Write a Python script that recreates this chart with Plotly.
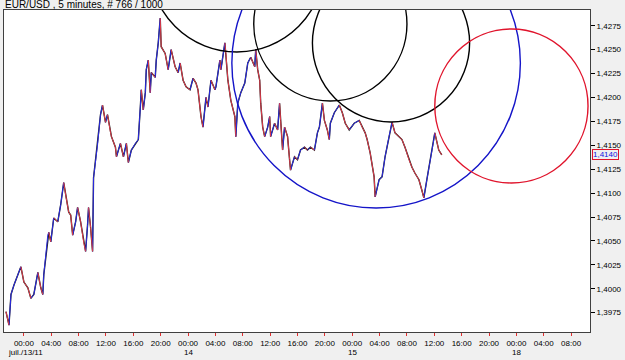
import plotly.graph_objects as go

# ---------------- data ----------------
# time in hours from 13 July 00:00 (5-minute chart, weekend skipped), closing prices
hours = [-2.62, -2.18, -1.89, -1.45, -0.44, 0.0, 0.58, 1.02, 1.45, 2.04, 2.47, 2.76, 2.91, 3.49, 3.64, 3.93,
         4.36, 4.95, 5.38, 5.82, 6.11, 6.55, 6.84, 7.13, 7.56, 7.85, 8.29, 8.73, 9.02, 9.31, 9.45, 9.75,
         10.04, 10.18, 10.76, 11.2, 11.49, 11.93, 12.22, 12.65, 12.8, 13.38, 13.53, 14.11, 14.55, 14.98,
         15.27, 15.71, 16.29, 16.73, 17.02, 17.16, 17.45, 17.75, 17.89, 18.18, 18.47, 18.62, 19.2, 19.35,
         19.64, 19.93, 20.07, 20.65, 21.09, 21.53, 22.11, 22.55, 22.84, 23.27, 23.71, 24.29, 24.73, 25.16,
         25.45, 25.89, 26.18, 26.62, 26.91, 27.35, 27.93, 28.07, 28.65, 28.8, 29.38, 29.53, 29.82, 30.25,
         30.84, 30.98, 31.27, 31.71, 32.29, 32.73, 33.16, 33.75, 33.89, 34.18, 34.47, 34.62, 34.91, 35.2,
         35.64, 35.93, 36.07, 36.65, 37.09, 37.38, 37.53, 37.82, 38.11, 38.55, 38.84, 38.98, 39.56, 40.0,
         40.44, 41.02, 41.45, 41.89, 42.47, 42.91, 43.2, 43.64, 43.93, 44.36, 44.65, 44.8, 45.38, 46.11,
         46.55, 46.98, 47.56, 48.29, 49.02, 49.45, 49.89, 50.18, 50.62, 51.2, 51.35, 51.93, 52.36, 52.8,
         53.38, 53.82, 54.25, 54.84, 55.27, 55.71, 56.29, 56.73, 57.16, 57.75, 58.18, 58.47, 58.91, 59.35,
         59.93, 60.07, 60.65, 61.09]
closes = [1.3976, 1.3962, 1.3994, 1.4004, 1.4023, 1.4007, 1.4001, 1.3990, 1.3994, 1.4017, 1.4001, 1.3994,
          1.4015, 1.4056, 1.4059, 1.4049, 1.4074, 1.4070, 1.4088, 1.4111, 1.4098, 1.4080, 1.4077, 1.4056,
          1.4070, 1.4085, 1.4070, 1.4049, 1.4039, 1.4067, 1.4085, 1.4064, 1.4039, 1.4116, 1.4150, 1.4182,
          1.4192, 1.4174, 1.4182, 1.4164, 1.4159, 1.4148, 1.4138, 1.4152, 1.4138, 1.4152, 1.4132, 1.4145,
          1.4152, 1.4156, 1.4190, 1.4208, 1.4187, 1.4205, 1.4229, 1.4239, 1.4205, 1.4226, 1.4221, 1.4239,
          1.4257, 1.4283, 1.4253, 1.4246, 1.4229, 1.4250, 1.4232, 1.4226, 1.4236, 1.4218, 1.4211, 1.4208,
          1.4220, 1.4215, 1.4208, 1.4180, 1.4169, 1.4200, 1.4190, 1.4218, 1.4208, 1.4211, 1.4239, 1.4229,
          1.4257, 1.4246, 1.4218, 1.4197, 1.4180, 1.4159, 1.4194, 1.4205, 1.4215, 1.4236, 1.4242, 1.4232,
          1.4250, 1.4229, 1.4218, 1.4194, 1.4169, 1.4159, 1.4169, 1.4180, 1.4159, 1.4173, 1.4166, 1.4194,
          1.4176, 1.4145, 1.4169, 1.4159, 1.4135, 1.4124, 1.4138, 1.4135, 1.4145, 1.4148, 1.4145, 1.4148,
          1.4145, 1.4163, 1.4169, 1.4194, 1.4176, 1.4166, 1.4156, 1.4173, 1.4184, 1.4192, 1.4184, 1.4173,
          1.4166, 1.4173, 1.4176, 1.4169, 1.4163, 1.4156, 1.4142, 1.4117, 1.4096, 1.4114, 1.4117, 1.4138,
          1.4159, 1.4174, 1.4163, 1.4159, 1.4156, 1.4148, 1.4135, 1.4127, 1.4121, 1.4114, 1.4103, 1.4095,
          1.4114, 1.4132, 1.4156, 1.4163, 1.4145, 1.4140]

tick_hours = list(range(0, 81, 4))
tick_labels = ["%02d:00" % (h % 24) for h in tick_hours]
date_hours = [24, 48, 72]
date_labels = ["14", "15", "18"]
first_date_label = "juil./13/11"
price_ticks = [1.3975, 1.4000, 1.4025, 1.4050, 1.4075, 1.4100, 1.4125, 1.4150,
               1.4175, 1.4200, 1.4225, 1.4250, 1.4275]

# drawn circles: centre hour, centre price, radius (in hours of x axis), colour
circle_hours = [31.13, 44.8, 53.67, 51.49, 71.27]
circle_prices = [1.43395, 1.42768, 1.42569, 1.42360, 1.41911]
circle_radius = [12.8, 11.2, 11.49, 21.09, 11.2]
circle_colors = ["#000000", "#000000", "#000000", "#1414c8", "#e0142c"]

title_text = "EUR/USD , 5 minutes, # 766 / 1000"

# ---------------- layout geometry ----------------
W, H = 625, 360
ml, mr, mt, mb = 3, 33, 10, 28
x_range = [-2.91, 82.76]
y_range = [1.39548, 1.42914]
px_per_h = (W - ml - mr) / (x_range[1] - x_range[0])
px_per_p = (H - mt - mb) / (y_range[1] - y_range[0])

up_x, up_y, dn_x, dn_y = [], [], [], []
for i in range(1, len(hours)):
    if closes[i] >= closes[i - 1]:
        up_x += [hours[i - 1], hours[i], None]
        up_y += [closes[i - 1], closes[i], None]
    else:
        dn_x += [hours[i - 1], hours[i], None]
        dn_y += [closes[i - 1], closes[i], None]

fig = go.Figure()
fig.add_trace(go.Scatter(x=hours, y=closes, mode="lines",
                         line=dict(color="#202020", width=1.4), hoverinfo="skip"))
fig.add_trace(go.Scatter(x=up_x, y=up_y, mode="lines",
                         line=dict(color="#2a2ae6", width=1.0), hoverinfo="skip"))
fig.add_trace(go.Scatter(x=dn_x, y=dn_y, mode="lines",
                         line=dict(color="#e03a4a", width=1.0), hoverinfo="skip"))

shapes = []
for cx, cy, r, col in zip(circle_hours, circle_prices, circle_radius, circle_colors):
    ry = r * px_per_h / px_per_p
    shapes.append(dict(type="circle", xref="x", yref="y",
                       x0=cx - r, x1=cx + r, y0=cy - ry, y1=cy + ry,
                       line=dict(color=col, width=1.4), layer="above"))

annotations = [
    dict(text=title_text, xref="paper", yref="paper", x=-0.002, y=1 + 5.5 / (H - mt - mb),
         xanchor="left", yanchor="middle", showarrow=False,
         font=dict(family="Liberation Sans", size=10, color="#000")),
    dict(text=first_date_label, xref="paper", yref="paper", x=2 / (W - ml - mr),
         y=-20.5 / (H - mt - mb), xanchor="left", yanchor="middle", showarrow=False,
         font=dict(family="Liberation Sans", size=8, color="#000")),
    dict(text=("%.4f" % closes[-1]).replace(".", ","), xref="paper", yref="y",
         x=1 + 16 / (W - ml - mr), y=closes[-1], xanchor="center", yanchor="middle",
         showarrow=False, bordercolor="#e0142c", borderwidth=1, borderpad=0,
         bgcolor="#f0f0f0", font=dict(family="Liberation Sans", size=8, color="#1010e0")),
]
for dh, dl in zip(date_hours, date_labels):
    annotations.append(dict(text=dl, xref="x", yref="paper", x=dh, y=-20.5 / (H - mt - mb),
                            xanchor="center", yanchor="middle", showarrow=False,
                            font=dict(family="Liberation Sans", size=8, color="#000")))

fig.update_layout(
    width=W, height=H,
    margin=dict(l=ml, r=mr, t=mt, b=mb),
    paper_bgcolor="#f0f0f0", plot_bgcolor="#ffffff",
    showlegend=False, separators=",.",
    shapes=shapes, annotations=annotations,
    font=dict(family="Liberation Sans", size=8, color="#000"),
    xaxis=dict(range=x_range, tickvals=tick_hours, ticktext=tick_labels,
               showgrid=False, zeroline=False, showline=True, mirror=True,
               linecolor="#404040", linewidth=1, ticks="outside", ticklen=3,
               tickcolor="#e03030", tickfont=dict(size=8, color="#000")),
    yaxis=dict(range=y_range, side="right", tickvals=price_ticks, tickformat=".4f",
               showgrid=False, zeroline=False, showline=True, mirror=True,
               linecolor="#404040", linewidth=1, ticks="outside", ticklen=4,
               tickcolor="#000", tickfont=dict(size=8, color="#000")),
)

fig.write_html("out.html")
